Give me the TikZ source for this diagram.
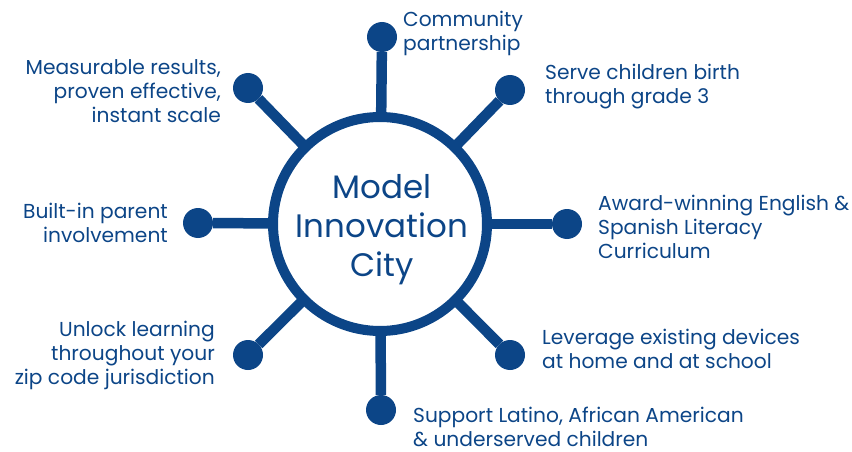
\documentclass[tikz,border=0pt]{standalone}
\usepackage{fontspec}
\setmainfont{Poppins}
\definecolor{navy}{HTML}{0C4587}
\begin{document}
\begin{tikzpicture}[x=1pt,y=-1pt,
 dot/.style={circle,fill=navy,minimum size=30pt,inner sep=0pt,outer sep=0pt},
 spoke/.style={draw=navy,line width=10.5pt},
 lbl/.style={text=navy,font=\fontsize{20.2}{24}\selectfont,inner sep=0pt}]
\useasboundingbox (0,0) rectangle (852,452);
\node[circle,draw=navy,line width=10pt,minimum size=214pt,inner sep=0pt,outer sep=0pt] (c) at (380,224) {};
\node[text=navy,font=\fontsize{32.5}{39}\selectfont,align=center,inner sep=0pt,anchor=base] (ct) at (382,276) {Model\\Innovation\\City};
\node[dot] (d1) at (382,37) {};
\node[dot] (d2) at (510,90) {};
\node[dot] (d3) at (567,224) {};
\node[dot] (d4) at (510,355) {};
\node[dot] (d5) at (381,410) {};
\node[dot] (d6) at (248,355) {};
\node[dot] (d7) at (198,223) {};
\node[dot] (d8) at (248,88) {};
\foreach \i in {1,...,8} {\draw[spoke] (c) -- (d\i);}
\node[lbl,align=left,anchor=base west] (t1) at (403,51) {Community\\partnership};
\node[lbl,align=left,anchor=base west] (t2) at (545,103) {Serve children birth\\through grade 3};
\node[lbl,align=left,anchor=base west] (t3) at (598,258) {Award-winning English \&\\Spanish Literacy\\Curriculum};
\node[lbl,align=left,anchor=base west] (t4) at (542,368) {Leverage existing devices\\at home and at school};
\node[lbl,align=left,anchor=base west] (t5) at (413,446) {Support Latino, African American\\\& underserved children};
\node[lbl,align=right,anchor=base east] (t6) at (215,384) {Unlock learning\\throughout your\\zip code jurisdiction};
\node[lbl,align=right,anchor=base east] (t7) at (168,242) {Built-in parent\\involvement};
\node[lbl,align=right,anchor=base east] (t8) at (221,122) {Measurable results,\\proven effective,\\instant scale};
\end{tikzpicture}
\end{document}
